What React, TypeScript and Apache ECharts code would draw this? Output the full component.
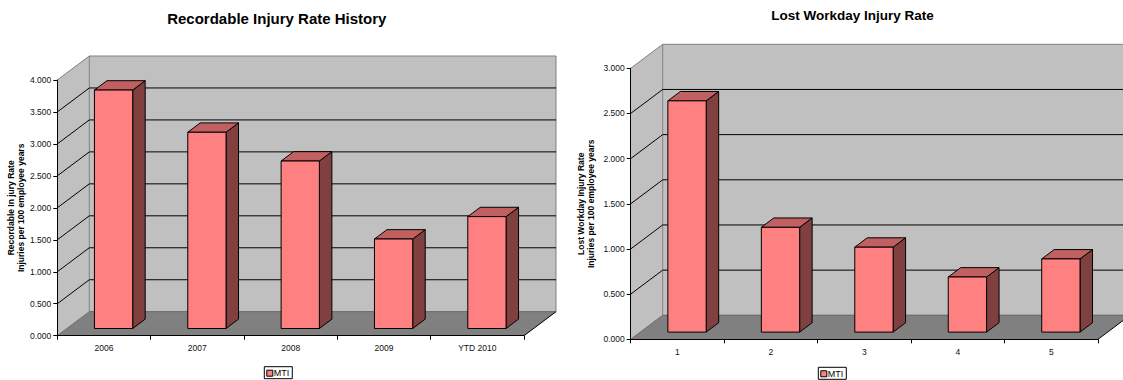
import React, { useEffect, useRef } from "react";
import * as echarts from "echarts";

const leftTitle = "Recordable Injury Rate History";
const leftCategories = ["2006", "2007", "2008", "2009", "YTD 2010"];
const leftValues = [3.73, 3.07, 2.62, 1.4, 1.75];
const leftYMax = 4;
const leftYName = "Recordable In jury Rate\nInjuries per 100 employee years";

const rightTitle = "Lost Workday Injury Rate";
const rightCategories = ["1", "2", "3", "4", "5"];
const rightValues = [2.56, 1.16, 0.94, 0.61, 0.81];
const rightYMax = 3;
const rightYName = "Lost Workday Injury Rate\nInjuries per 100 employee years";

const yInterval = 0.5;
const seriesName = "MTI";

const FONT = "'Liberation Sans', Arial, sans-serif";
const DX = 32;
const DY = -24;
const FRONT_F = 0.3;
const BAR_F = 0.39;
const BAR_W = 0.41;

const WALL = "#C0C0C0";
const FLOOR = "#808080";
const EDGE = "#808080";
const FRONT = "#FF8080";
const TOP = "#C06060";
const SIDE = "#804040";

function wallsRender(max: number) {
  return (params: any, api: any) => {
    const cs = params.coordSys;
    const L = cs.x;
    const T = cs.y;
    const R = cs.x + cs.width;
    const B = cs.y + cs.height;
    const children: any[] = [];
    children.push({
      type: "polygon",
      shape: { points: [[L, B], [L, T], [L + DX, T + DY], [L + DX, B + DY]] },
      style: { fill: WALL, stroke: null },
    });
    children.push({
      type: "polygon",
      shape: { points: [[L + DX, T + DY], [R + DX, T + DY], [R + DX, B + DY], [L + DX, B + DY]] },
      style: { fill: WALL, stroke: EDGE, lineWidth: 1 },
    });
    children.push({
      type: "polygon",
      shape: { points: [[L, B], [R, B], [R + DX, B + DY], [L + DX, B + DY]] },
      style: { fill: FLOOR, stroke: null },
    });
    for (let v = yInterval; v < max - 1e-9; v += yInterval) {
      const y = api.coord([0, v])[1];
      children.push({
        type: "polyline",
        shape: { points: [[L, y], [L + DX, y + DY], [R + DX, y + DY]] },
        style: { stroke: "#000", fill: "none", lineWidth: 1 },
      });
    }
    children.push({
      type: "polyline",
      shape: { points: [[L, T], [L + DX, T + DY]] },
      style: { stroke: EDGE, fill: "none", lineWidth: 1 },
    });
    children.push({
      type: "polyline",
      shape: { points: [[L, B], [L + DX, B + DY], [R + DX, B + DY]] },
      style: { stroke: "#6a6a6a", fill: "none", lineWidth: 1 },
    });
    children.push({
      type: "polyline",
      shape: { points: [[R, B], [R + DX, B + DY]] },
      style: { stroke: "#000", fill: "none", lineWidth: 1 },
    });
    return { type: "group", children };
  };
}

function barRender(params: any, api: any) {
  const idx = api.value(0);
  const val = api.value(1);
  const c = api.coord([idx, val]);
  const c0 = api.coord([idx, 0]);
  const w = api.size([1, 0])[0] * BAR_W;
  const fx = c0[0] + FRONT_F * DX - w / 2;
  const bottom = c0[1] + FRONT_F * DY;
  const top = c[1] + FRONT_F * DY;
  const bdx = BAR_F * DX;
  const bdy = BAR_F * DY;
  const st = (fill: string) => ({ fill, stroke: "#000", lineWidth: 1, lineJoin: "round" });
  return {
    type: "group",
    children: [
      {
        type: "polygon",
        shape: { points: [[fx + w, top], [fx + w + bdx, top + bdy], [fx + w + bdx, bottom + bdy], [fx + w, bottom]] },
        style: st(SIDE),
      },
      {
        type: "polygon",
        shape: { points: [[fx, top], [fx + bdx, top + bdy], [fx + w + bdx, top + bdy], [fx + w, top]] },
        style: st(TOP),
      },
      {
        type: "polygon",
        shape: { points: [[fx, top], [fx + w, top], [fx + w, bottom], [fx, bottom]] },
        style: st(FRONT),
      },
    ],
  };
}

function xAxisCfg(data: string[], gridIndex: number) {
  return {
    type: "category",
    gridIndex,
    data,
    z: 5,
    boundaryGap: true,
    axisLine: { show: true, lineStyle: { color: "#000", width: 1 } },
    axisTick: { show: true, length: 4, alignWithLabel: false, lineStyle: { color: "#000" } },
    axisLabel: { color: "#111", fontSize: 8.5, fontFamily: FONT, margin: 8, interval: 0 },
    splitLine: { show: false },
  };
}

function yAxisCfg(max: number, name: string, gridIndex: number, gap: number) {
  return {
    type: "value",
    gridIndex,
    min: 0,
    max,
    interval: yInterval,
    z: 5,
    name,
    nameLocation: "middle",
    nameRotate: 90,
    nameGap: gap,
    nameMoveOverlap: false,
    nameTextStyle: { color: "#000", fontSize: 8.5, fontWeight: "bold", fontFamily: FONT, lineHeight: 10.5 },
    axisLine: { show: true, lineStyle: { color: "#000", width: 1 } },
    axisTick: { show: true, length: 4, lineStyle: { color: "#000" } },
    axisLabel: { color: "#111", fontSize: 8.5, fontFamily: FONT, margin: 6, formatter: (v: number) => v.toFixed(3) },
    splitLine: { show: false },
  };
}

function legendCfg(left: number, top: number) {
  return {
    left,
    top,
    data: [seriesName],
    orient: "horizontal",
    backgroundColor: "#fff",
    borderColor: "#000",
    borderWidth: 1,
    borderRadius: 0,
    padding: [2, 3, 1, 2],
    itemWidth: 6,
    itemHeight: 6,
    itemGap: 0,
    icon: "rect",
    selectedMode: false,
    itemStyle: { color: FRONT, borderColor: "#000", borderWidth: 1 },
    textStyle: { color: "#000", fontSize: 9, fontFamily: FONT, padding: [0, 0, 0, -4] },
  };
}

export default function App() {
  const ref = useRef<HTMLDivElement>(null);
  useEffect(() => {
    if (!ref.current) return;
    const chart = echarts.init(ref.current, null, { renderer: "svg" });
    const option: any = {
      animation: false,
      backgroundColor: "#fff",
      grid: [
        { left: 57.3, top: 80, width: 466.7, height: 255.7, outerBoundsMode: "none", containLabel: false },
        { left: 630.7, top: 68.3, width: 467.3, height: 271, outerBoundsMode: "none", containLabel: false },
      ],
      xAxis: [xAxisCfg(leftCategories, 0), xAxisCfg(rightCategories, 1)],
      yAxis: [yAxisCfg(leftYMax, leftYName, 0, 31), yAxisCfg(rightYMax, rightYName, 1, 34)],
      legend: [legendCfg(264.3, 366.7), legendCfg(818.3, 367.3)],
      graphic: [
        {
          type: "text",
          x: 276.8,
          y: 18.3,
          style: { text: leftTitle, fill: "#000", font: `bold 15px ${FONT}`, textAlign: "center", textVerticalAlign: "middle" },
        },
        {
          type: "text",
          x: 852.6,
          y: 15.7,
          style: { text: rightTitle, fill: "#000", font: `bold 13.5px ${FONT}`, textAlign: "center", textVerticalAlign: "middle" },
        },
      ],
      series: [
        {
          type: "custom",
          name: "walls-left",
          xAxisIndex: 0,
          yAxisIndex: 0,
          silent: true,
          z: 1,
          clip: false,
          data: [[0, 0]],
          renderItem: wallsRender(leftYMax),
        },
        {
          type: "custom",
          name: "walls-right",
          xAxisIndex: 1,
          yAxisIndex: 1,
          silent: true,
          z: 1,
          clip: false,
          data: [[0, 0]],
          renderItem: wallsRender(rightYMax),
        },
        {
          type: "custom",
          name: seriesName,
          xAxisIndex: 0,
          yAxisIndex: 0,
          silent: true,
          z: 2,
          clip: false,
          itemStyle: { color: FRONT, borderColor: "#000", borderWidth: 1 },
          data: leftValues.map((v, i) => [i, v]),
          renderItem: barRender,
        },
        {
          type: "custom",
          name: seriesName,
          xAxisIndex: 1,
          yAxisIndex: 1,
          silent: true,
          z: 2,
          clip: false,
          itemStyle: { color: FRONT, borderColor: "#000", borderWidth: 1 },
          data: rightValues.map((v, i) => [i, v]),
          renderItem: barRender,
        },
      ],
    };
    chart.setOption(option);
    return () => chart.dispose();
  }, []);
  return (
    <div
      ref={ref}
      style={{ position: "fixed", left: 0, top: 0, width: 1123, height: 380, background: "#fff" }}
    />
  );
}
